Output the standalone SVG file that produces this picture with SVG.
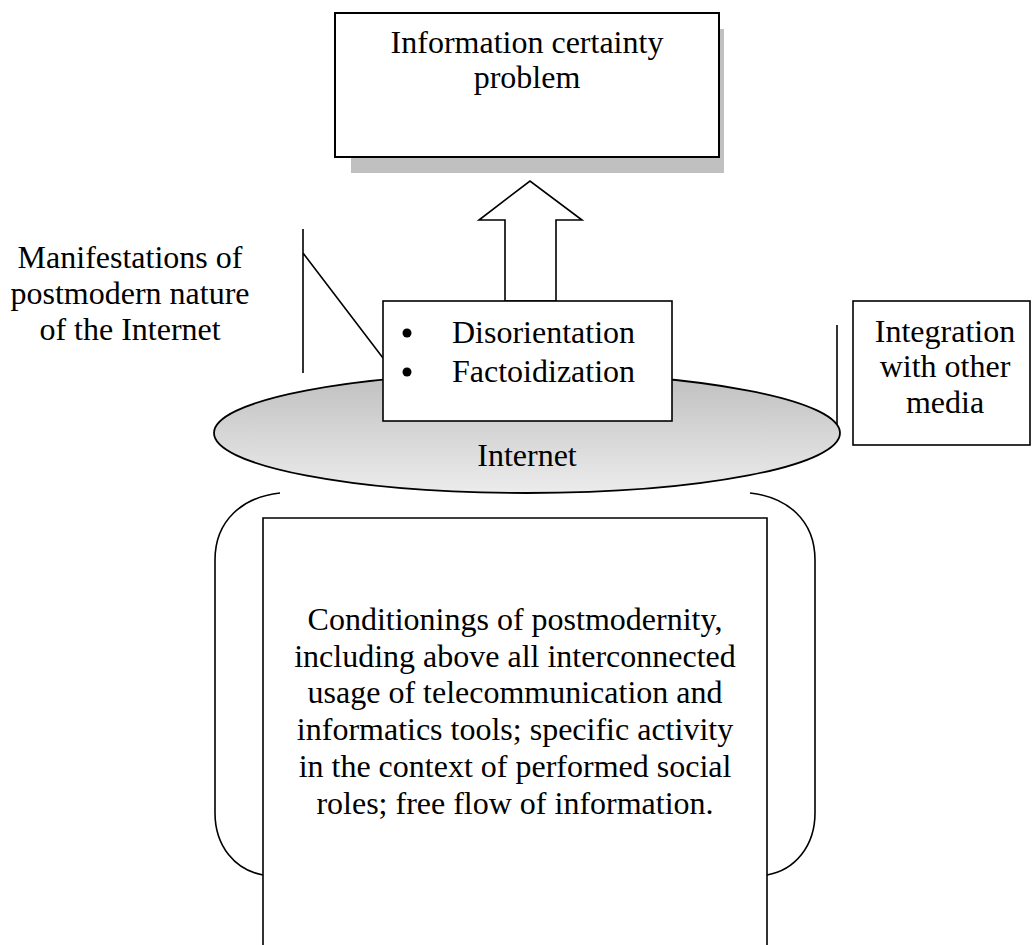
<svg xmlns="http://www.w3.org/2000/svg" width="1032" height="945" viewBox="0 0 1032 945">
<defs>
<linearGradient id="g" x1="0" y1="0" x2="0" y2="1">
<stop offset="0" stop-color="#bfbfbf"/>
<stop offset="1" stop-color="#ececec"/>
</linearGradient>
<style>
text{font-family:"Liberation Serif","Times New Roman",serif;font-size:32px;fill:#000;text-anchor:middle}
.s{fill:none;stroke:#000;stroke-width:1.6}
.b{fill:#fff;stroke:#000;stroke-width:1.6}
</style>
</defs>
<rect width="1032" height="945" fill="#fff"/>
<g id="top">
<rect x="351" y="29" width="373" height="144" fill="#c0c0c0"/>
<rect x="335" y="13" width="384" height="144" fill="#fff" stroke="#000" stroke-width="2"/>
<text x="527" y="53">Information certainty</text>
<text x="527" y="88">problem</text>
</g>
<g id="connectors">
<polygon class="b" points="505,301 505,220 479,220 530,181 582,220 556,220 556,301"/>
<path class="s" d="M303,229 V373 M303,253 L383,358"/>
<path class="s" d="M837,325 V440"/>
<path class="s" d="M280,493 C243,497 215,520 215,560 V813 C215,846 235,870 263,875"/>
<path class="s" d="M750,493 C787,497 815,520 815,560 V813 C815,846 795,870 767,875"/>
</g>
<g id="internet">
<ellipse cx="527" cy="433" rx="313" ry="60" fill="url(#g)" stroke="#000" stroke-width="1.8"/>
<text x="527" y="466">Internet</text>
</g>
<g id="manifest">
<rect class="b" x="383" y="301" width="289" height="120"/>
<circle cx="407" cy="333" r="4.5"/>
<circle cx="407" cy="372" r="4.5"/>
<text x="452" y="343" style="text-anchor:start">Disorientation</text>
<text x="452" y="382" style="text-anchor:start">Factoidization</text>
</g>
<g id="label">
<text x="130" y="268">Manifestations of</text>
<text x="130" y="304">postmodern nature</text>
<text x="130" y="340">of the Internet</text>
</g>
<g id="media">
<rect class="b" x="853" y="301" width="177" height="144"/>
<text x="945" y="342">Integration</text>
<text x="945" y="377">with other</text>
<text x="945" y="413">media</text>
</g>
<g id="conditions">
<path class="b" d="M263,946 V518 H767 V946"/>
<text x="515" y="630">Conditionings of postmodernity,</text>
<text x="515" y="667">including above all interconnected</text>
<text x="515" y="703">usage of telecommunication and</text>
<text x="515" y="740">informatics tools; specific activity</text>
<text x="515" y="777">in the context of performed social</text>
<text x="515" y="814">roles; free flow of information.</text>
</g>
</svg>
